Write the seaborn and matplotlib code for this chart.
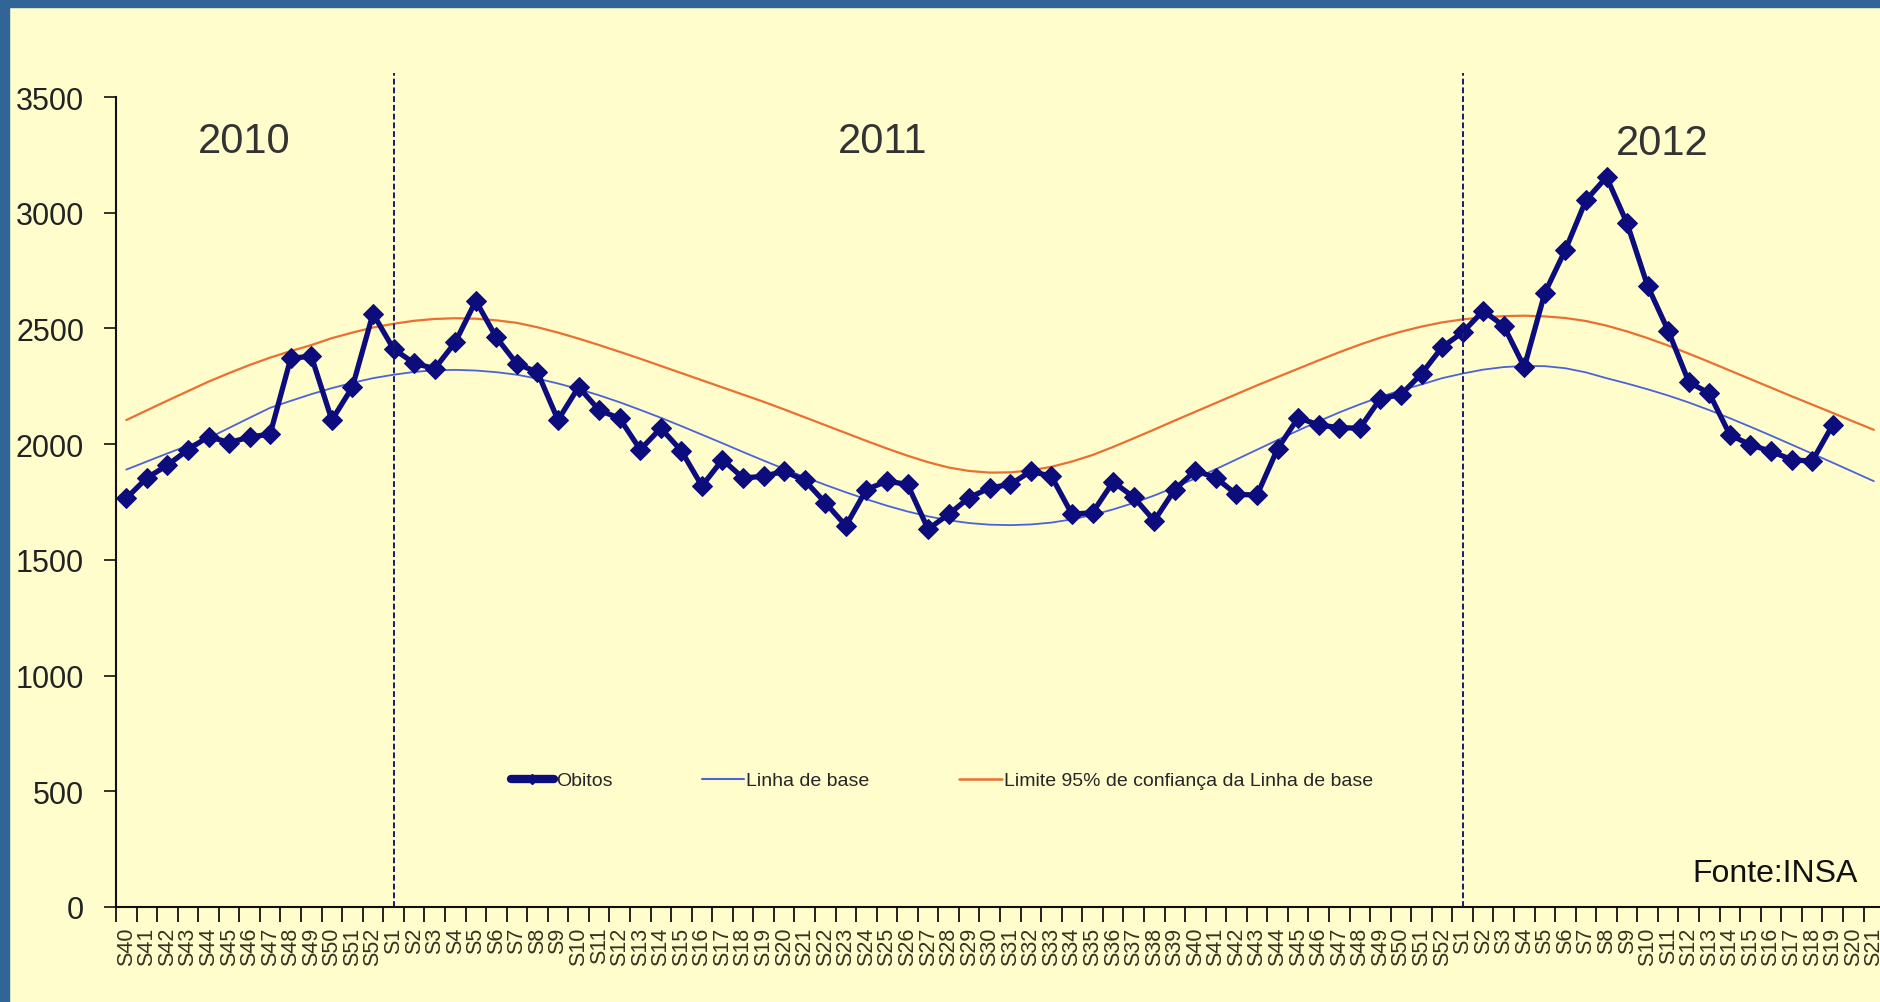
import numpy as np
import pandas as pd
import matplotlib
matplotlib.use("Agg")
import matplotlib.pyplot as plt
from matplotlib.lines import Line2D
from matplotlib.patches import Rectangle
import seaborn as sns

# Week labels (2010 S40 .. 2012 S21)
weeks_2010 = ["S%d" % w for w in range(40, 53)]
weeks_2011 = ["S%d" % w for w in range(1, 53)]
weeks_2012 = ["S%d" % w for w in range(1, 22)]
week_labels = weeks_2010 + weeks_2011 + weeks_2012

# Weekly deaths (Obitos)
obitos_2010 = [1766, 1854, 1909, 1976, 2033, 2007, 2030, 2044, 2371, 2380, 2104, 2247, 2564]
obitos_2011 = [2411, 2350, 2326, 2440, 2619, 2461, 2347, 2311, 2104, 2247, 2147, 2111, 1976,
               2069, 1971, 1819, 1933, 1854, 1861, 1883, 1843, 1747, 1647, 1804, 1840, 1826,
               1633, 1697, 1769, 1811, 1826, 1883, 1861, 1697, 1704, 1837, 1771, 1669, 1804,
               1886, 1854, 1783, 1780, 1980, 2114, 2083, 2071, 2069, 2197, 2214, 2304, 2419]
obitos_2012 = [2483, 2576, 2511, 2333, 2654, 2840, 3054, 3154, 2954, 2683, 2490, 2269, 2219,
               2040, 1997, 1969, 1933, 1926, 2083]

# Baseline (Linha de base), one value per week
linha_base = [1890, 1925, 1960, 1994, 2026, 2070, 2114, 2157, 2187, 2216, 2242, 2265, 2285,
              2300, 2312, 2319, 2321, 2318, 2311, 2300, 2283, 2262, 2238, 2211, 2181, 2148,
              2114, 2078, 2041, 2004, 1966, 1929, 1893, 1858, 1824, 1792, 1762, 1734, 1709,
              1688, 1671, 1659, 1652, 1650, 1653, 1661, 1675, 1694, 1718, 1746, 1778, 1814,
              1852, 1892, 1934, 1976, 2018, 2059, 2099, 2137, 2172, 2204, 2233, 2258, 2285,
              2305, 2322, 2333, 2338, 2337, 2328, 2310, 2285, 2262, 2237, 2210, 2180, 2147,
              2112, 2075, 2037, 1998, 1959, 1920, 1880, 1840]

# Upper 95% limit of the baseline
limite_95 = [2104, 2146, 2188, 2229, 2270, 2307, 2342, 2374, 2402, 2428, 2458, 2482, 2504,
             2520, 2533, 2541, 2544, 2542, 2535, 2524, 2505, 2482, 2456, 2428, 2399, 2369,
             2338, 2307, 2276, 2245, 2214, 2183, 2150, 2116, 2082, 2048, 2014, 1981, 1950,
             1922, 1899, 1884, 1877, 1878, 1887, 1902, 1925, 1953, 1988, 2025, 2063, 2102,
             2140, 2178, 2216, 2254, 2290, 2326, 2362, 2397, 2430, 2460, 2486, 2508, 2526,
             2539, 2548, 2553, 2555, 2552, 2545, 2532, 2512, 2487, 2458, 2426, 2391, 2355,
             2318, 2281, 2244, 2207, 2171, 2135, 2098, 2062]

year_labels = ["2010", "2011", "2012"]

obitos = obitos_2010 + obitos_2011 + obitos_2012
pos = np.arange(len(week_labels))
df_obitos = pd.DataFrame({"x": pos[:len(obitos)], "y": obitos})
df_base = pd.DataFrame({"x": pos, "base": linha_base, "limite": limite_95})

sns.set_style("ticks")
plt.rcParams["font.family"] = ["Liberation Sans", "DejaVu Sans"]

bg = "#FFFDCC"
navy = "#0C0C7C"
fig = plt.figure(figsize=(18.81, 10.03), dpi=100, facecolor=bg)
ax = fig.add_axes([116 / 1881, 95 / 1003, 1 - 116 / 1881, 810 / 1003])
ax.set_facecolor(bg)

sns.lineplot(data=df_base, x="x", y="base", color="#4A63D8", linewidth=1.3, ax=ax)
sns.lineplot(data=df_base, x="x", y="limite", color="#EC6F32", linewidth=1.6, ax=ax)
sns.lineplot(data=df_obitos, x="x", y="y", color=navy, linewidth=3.8, marker="D",
             markersize=10, markeredgecolor=navy, ax=ax)

# year separators
for x0 in [len(weeks_2010), len(weeks_2010) + len(weeks_2011)]:
    ax.axvline(x0, ymin=0, ymax=1.03, color="#1A1A70", linewidth=1.4,
               linestyle=(0, (3, 1.5)), clip_on=False)

ax.set_xlim(-0.5, len(week_labels) - 0.65)
ax.set_ylim(0, 3500)
ax.set_yticks(np.arange(0, 3501, 500))
ax.tick_params(axis="y", labelsize=22, length=9, width=1.3, pad=14, colors="#222222")
ax.set_xticks(pos)
ax.set_xticklabels(week_labels, rotation=90, fontsize=15.5, color="#33331f")
ax.set_xticks(pos - 0.5, minor=True)
ax.tick_params(axis="x", which="major", length=0, pad=14)
ax.tick_params(axis="x", which="minor", length=11, width=1.3, color="#111111")
ax.set_xlabel("")
ax.set_ylabel("")
sns.despine(ax=ax)
for s in ["left", "bottom"]:
    ax.spines[s].set_linewidth(1.5)
    ax.spines[s].set_color("#111111")

# year annotations
for lab, xx, yy in zip(year_labels, [5.74, 36.8, 74.7], [3310, 3310, 3300]):
    ax.text(xx, yy, lab, ha="center", va="center", fontsize=30, color="#333333")

handles = [
    Line2D([], [], color=navy, linewidth=6, marker="D", markersize=5),
    Line2D([], [], color="#4A63D8", linewidth=1.5),
    Line2D([], [], color="#EC6F32", linewidth=1.8),
]
ax.legend(handles, ["Obitos", "Linha de base", "Limite 95% de confiança da Linha de base"],
          loc="center", bbox_to_anchor=(0.468, 0.156), ncol=3, frameon=False,
          fontsize=14, handlelength=2.2, handletextpad=0.1, columnspacing=4.6)

fig.text(1858 / 1881, 1 - 874 / 1003, "Fonte:INSA", ha="right", va="center",
         fontsize=23, color="#111111")

# blue frame on top and left
fig.patches.append(Rectangle((0, 1 - 8 / 1003), 1, 8 / 1003, transform=fig.transFigure,
                             color="#316497", zorder=10))
fig.patches.append(Rectangle((0, 0), 9 / 1881, 1, transform=fig.transFigure,
                             color="#316497", zorder=10))

fig.savefig("out.png", dpi=100, facecolor=bg)
